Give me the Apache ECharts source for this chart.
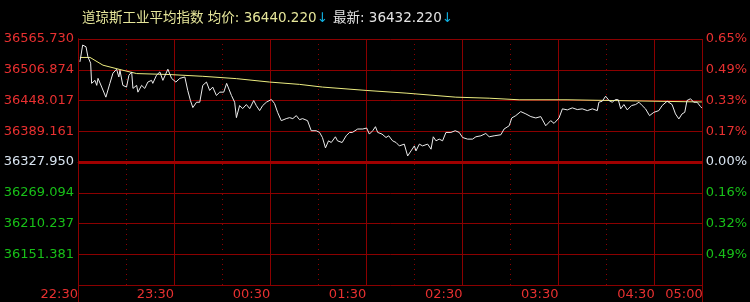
<!DOCTYPE html>
<html><head><meta charset="utf-8">
<script src="https://cdn.jsdelivr.net/npm/echarts@6/dist/echarts.min.js"></script>
<style>html,body{margin:0;padding:0;background:#000;} #c{width:750px;height:302px;}</style>
</head><body><div id="c"></div>
<script>
const prevClose = 36327.950;
const priceStep = 59.445;
const leftLabels = ['', '36151.381', '36210.237', '36269.094', '36327.950', '36389.161', '36448.017', '36506.874', '36565.730'];
const rightLabels = ['', '0.49%', '0.32%', '0.16%', '0.00%', '0.17%', '0.33%', '0.49%', '0.65%'];
const timeLabels = ['22:30', '23:30', '00:30', '01:30', '02:30', '03:30', '04:30', '05:00'];
const titleName = '道琼斯工业平均指数';
const avgText = '36440.220';
const lastText = '36432.220';

const priceMinutes = [1.2,2.9,5.0,6.2,7.9,8.5,10.6,11.7,12.5,14.8,17.4,19.9,21.8,24.1,25.5,26.2,28.0,30.3,31.8,33.5,34.3,36.6,37.4,39.7,41.7,43.6,45.9,46.7,49.0,51.1,53.0,56.1,58.4,61.1,63.6,66.7,68.5,70.2,71.7,74.0,76.0,77.9,80.2,82.2,84.1,86.4,88.5,91.0,92.8,95.8,97.8,98.9,100.9,102.8,105.1,107.2,109.7,111.3,113.4,115.3,117.6,120.7,122.7,124.6,126.9,130.0,132.1,134.1,136.3,138.3,140.2,143.3,145.6,148.7,150.8,152.6,154.5,156.4,158.1,160.7,162.0,164.9,167.4,169.5,171.3,174.6,177.8,180.2,181.9,184.0,185.7,187.1,189.8,192.3,194.0,196.4,198.6,200.6,203.7,205.8,207.9,210.0,211.0,213.1,215.1,218.3,220.4,221.8,223.5,225.5,227.6,229.7,232.8,235.5,238.0,240.1,243.2,246.3,248.4,251.5,254.6,256.7,259.8,264.0,266.0,269.2,270.8,273.3,276.4,279.6,282.7,285.8,288.9,292.0,295.1,297.2,300.3,302.4,305.5,308.6,311.7,314.8,318.0,321.1,324.2,325.2,327.3,329.4,331.5,333.5,335.6,337.3,338.8,340.8,342.9,345.6,348.1,350.2,352.2,354.3,356.8,359.5,362.6,364.7,367.8,370.9,373.0,375.1,377.1,378.8,380.2,382.4,384.4,386.5,388.6,389.5];
const prices = [36521.5,36554.0,36550.7,36531.2,36519.0,36480.0,36485.8,36476.1,36489.7,36472.8,36453.3,36480.0,36499.5,36507.3,36492.3,36505.3,36476.1,36472.8,36495.6,36502.0,36470.2,36476.1,36463.0,36476.1,36470.2,36482.5,36485.8,36480.0,36495.6,36502.0,36485.8,36507.3,36489.7,36482.5,36489.7,36492.3,36466.3,36446.8,36433.2,36443.5,36443.5,36476.1,36482.5,36466.3,36472.8,36456.6,36463.0,36463.0,36480.0,36456.6,36443.5,36413.7,36437.1,36431.2,36439.0,36431.2,36446.8,36437.1,36427.3,36437.1,36443.5,36448.8,36441.0,36424.0,36407.9,36411.8,36413.7,36411.8,36417.6,36409.8,36411.8,36407.9,36388.4,36388.4,36385.1,36375.3,36355.2,36368.9,36365.6,36376.7,36368.9,36365.6,36378.6,36385.1,36385.1,36391.7,36391.7,36393.6,36381.9,36388.4,36396.2,36385.1,36381.9,36375.3,36378.6,36368.9,36365.6,36359.1,36362.5,36339.6,36349.4,36359.1,36349.4,36362.5,36359.1,36362.5,36352.7,36376.7,36368.9,36372.2,36368.9,36385.1,36385.1,36388.4,36385.1,36375.3,36372.2,36372.2,36376.7,36378.6,36383.1,36376.7,36378.6,36380.6,36391.7,36398.1,36413.1,36417.6,36425.4,36420.9,36415.7,36413.1,36415.7,36398.1,36407.9,36402.6,36413.1,36430.7,36428.7,36432.6,36429.3,36430.7,36427.3,36430.7,36427.3,36443.5,36445.5,36455.2,36446.8,36443.5,36448.8,36448.2,36430.7,36439.0,36428.7,36437.1,36439.0,36443.5,36437.1,36430.7,36417.6,36424.0,36427.3,36437.1,36445.5,36439.0,36420.9,36411.2,36420.9,36424.0,36446.8,36450.2,36443.5,36443.5,36435.2,36432.2];

const avgMinutes = [1.2,7.5,15.6,26.2,36.6,57.3,77.9,98.9,119.6,138.3,152.6,179.9,204.8,235.9,256.7,275.4,305.3,306.5,389.5];
const avgPrices = [36530.0,36530.1,36515.1,36506.7,36498.9,36497.0,36493.6,36489.1,36482.5,36478.0,36472.8,36466.3,36461.1,36453.3,36451.3,36448.2,36448.2,36445.5,36444.0];

const toUnits = p => (p - prevClose) / priceStep;
const priceData = priceMinutes.map((m, i) => [m, toUnits(prices[i])]);
const avgData = avgMinutes.map((m, i) => [m, toUnits(avgPrices[i])]);

const gridColor = '#8b0000';
const labelFont = 'DejaVu Sans';
const idxOf = v => Math.round(v) + 4;
const colorOf = v => { const i = idxOf(Number(v)); return i > 4 ? '#e83030' : (i === 4 ? '#d8e4f0' : '#18c018'); };

const chart = echarts.init(document.getElementById('c'), null, {renderer: 'canvas'});
const option = {
  backgroundColor: '#000',
  animation: false,
  title: {
    left: 77, top: 4,
    text: '{a|' + titleName + ' 均价: ' + avgText + '}{b|↓} {c|最新: ' + lastText + '}{b|↓}',
    textStyle: {
      fontWeight: 'normal',
      rich: {
        a: {color: '#e6e69a', fontSize: 13.5, fontWeight: 'normal', fontFamily: 'DejaVu Sans, Noto Sans CJK SC'},
        b: {color: '#10b0e0', fontSize: 13.5, fontWeight: 'normal', fontFamily: 'DejaVu Sans'},
        c: {color: '#e4e4e4', fontSize: 13.5, fontWeight: 'normal', fontFamily: 'DejaVu Sans, Noto Sans CJK SC'}
      }
    }
  },
  grid: {left: 78, right: 46, top: 39, bottom: 17, containLabel: false},
  xAxis: [
    {
      type: 'value', min: 0, max: 390, interval: 30, position: 'bottom',
      axisLine: {show: false}, axisTick: {show: false}, axisLabel: {show: false},
      splitLine: {show: true, lineStyle: {color: gridColor, width: 1, type: [1, 4]}}
    },
    {
      type: 'value', min: 0, max: 390, interval: 60, position: 'bottom',
      axisLine: {show: true, lineStyle: {color: gridColor, width: 1}},
      axisTick: {show: true, length: 5, lineStyle: {color: gridColor}},
      splitLine: {show: true, lineStyle: {color: gridColor, width: 1}},
      axisLabel: {
        show: true, showMinLabel: true, showMaxLabel: true, align: 'right', margin: 3,
        color: '#e83030', fontSize: 13, fontFamily: labelFont,
        formatter: v => v >= 390 ? timeLabels[timeLabels.length - 1] : timeLabels[Math.round(v / 60)]
      }
    }
  ],
  yAxis: [
    {
      type: 'value', min: -4, max: 4, interval: 1, position: 'left',
      axisLine: {show: true, lineStyle: {color: gridColor, width: 1}},
      axisTick: {show: false},
      splitLine: {show: true, lineStyle: {color: gridColor, width: 1}},
      axisLabel: {
        show: true, margin: 4, fontSize: 13, fontFamily: labelFont,
        color: colorOf,
        formatter: v => leftLabels[idxOf(v)]
      }
    },
    {
      type: 'value', min: -4, max: 4, interval: 1, position: 'right',
      axisLine: {show: true, lineStyle: {color: gridColor, width: 1}},
      axisTick: {show: false},
      splitLine: {show: false},
      axisLabel: {
        show: true, margin: 3, fontSize: 13, fontFamily: labelFont,
        color: colorOf,
        formatter: v => rightLabels[idxOf(v)]
      }
    }
  ],
  series: [
    {
      type: 'line', name: '均价', xAxisIndex: 1, yAxisIndex: 0, data: avgData,
      symbol: 'none', lineStyle: {color: '#ecec80', width: 1}, z: 3,
      markLine: {
        silent: true, symbol: 'none', label: {show: false},
        lineStyle: {color: '#a00000', width: 3, type: 'solid'},
        data: [{yAxis: 0}]
      }
    },
    {
      type: 'line', name: '最新', xAxisIndex: 1, yAxisIndex: 0, data: priceData,
      symbol: 'none', lineStyle: {color: '#ececec', width: 1}, z: 4
    }
  ]
};
chart.setOption(option);

// extend the left/right frame lines down to the bottom edge
const bl = chart.convertToPixel({xAxisIndex: 1, yAxisIndex: 0}, [0, -4]);
const br = chart.convertToPixel({xAxisIndex: 1, yAxisIndex: 0}, [390, -4]);
const H = chart.getHeight();
chart.setOption({
  graphic: [
    {type: 'line', shape: {x1: Math.round(bl[0]) + 0.5, y1: bl[1], x2: Math.round(bl[0]) + 0.5, y2: H}, style: {stroke: gridColor, lineWidth: 1}, silent: true},
    {type: 'line', shape: {x1: Math.round(br[0]) - 0.5, y1: br[1], x2: Math.round(br[0]) - 0.5, y2: H}, style: {stroke: gridColor, lineWidth: 1}, silent: true}
  ]
});
</script>
</body></html>
